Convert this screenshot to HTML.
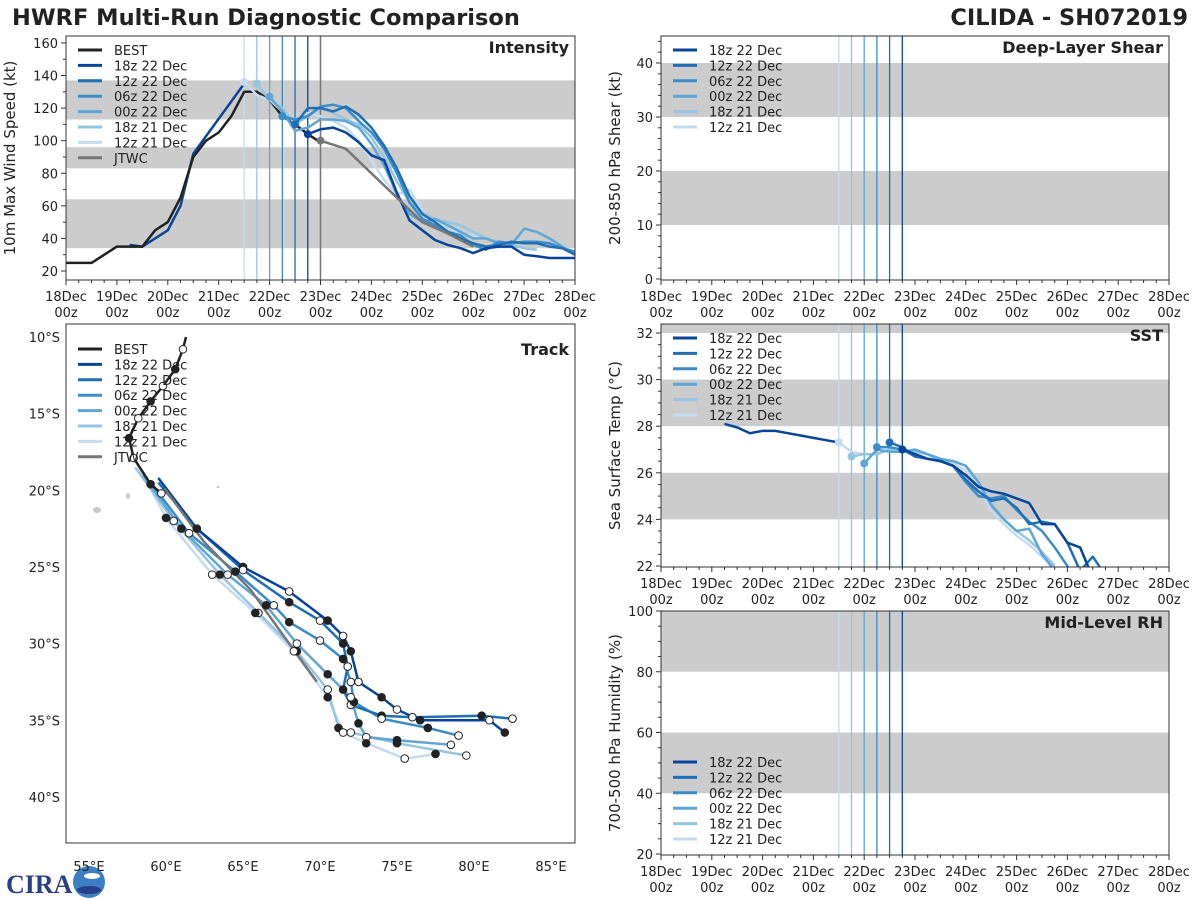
<!DOCTYPE html>
<html><head><meta charset="utf-8"><style>
body{margin:0;background:#fff;}
svg{display:block;font-family:"DejaVu Sans","Liberation Sans",sans-serif;}
</style></head><body>
<svg id="c" width="1200" height="900" viewBox="0 0 1200 900" xmlns="http://www.w3.org/2000/svg">
<rect width="1200" height="900" fill="#fff"/>
<text x="12" y="25" font-size="22.5" font-weight="bold" fill="#222">HWRF Multi-Run Diagnostic Comparison</text>
<text x="1188" y="25" font-size="22.5" font-weight="bold" fill="#222" text-anchor="end">CILIDA - SH072019</text>
<g>
<text x="6" y="893" font-size="26" font-weight="bold" fill="#2a3f8a" font-family="Liberation Serif, serif">CIRA</text>
<circle cx="89" cy="882" r="16" fill="#3c7fc4"/>
<ellipse cx="89" cy="890" rx="12" ry="4" fill="#2a3f8a"/>
<ellipse cx="92" cy="876" rx="8" ry="3" fill="#fff"/>
</g>
</svg>
<script>
// ---------- data ----------
const runNames = ["18z 22 Dec","12z 22 Dec","06z 22 Dec","00z 22 Dec","18z 21 Dec","12z 21 Dec"];
const runColors = ["#08459a","#1f6fb4","#3a8dc8","#5fa6d6","#95c5e0","#c6dbef"];
const runStarts = [4.75,4.5,4.25,4.0,3.75,3.5]; // days after 18 Dec 00z
const xDayLabels = ["18Dec","19Dec","20Dec","21Dec","22Dec","23Dec","24Dec","25Dec","26Dec","27Dec","28Dec"];
const jtwcStart = 5.0;

const bestDays = [0,0.5,1,1.5,1.75,2,2.25,2.5,2.75,3,3.25,3.5,3.75,4,4.25,4.5,4.75,5.0];
const bestVmax = [25,25,35,35,45,50,65,90,100,105,115,130,130,125,115,110,104,99];
const histDays = [1.25,1.5,1.75,2,2.25,2.5,3.5];
const histVmax = [36,35,40,45,60,92,135];
const jtwcVmax = [100,95,80,65,50,43,35]; // every 12h
const vmax18z22 = [104,107,108,105,99,91,88,68,51,45,39,36,34,31,34,35,35,30,29,28,28,28];
const vmax12z22 = [110,120,120,118,121,116,108,97,83,66,55,50,44,40,37,35,36,38,37,37,35,34,30,26];
const vmax06z22 = [115,113,115,121,122,120,112,105,95,80,62,52,48,44,42,36,33,38,37,38,38,37,34,32];
const vmax00z22 = [127,118,106,108,113,113,112,108,98,85,67,55,50,52,48,44,40,40,37,36,46,44,40,35,30];
const vmax18z21 = [135,125,120,110,115,120,117,113,110,102,90,75,62,56,52,50,48,44,40,38,36,34,33];
const vmax12z21 = [136,128,125,118,113,117,115,112,108,100,88,76,67,70,57,50,47,43,42,40,37,35];
const vmaxRuns = [vmax18z22,vmax12z22,vmax06z22,vmax00z22,vmax18z21,vmax12z21];

const sstHistDays = [1.25,1.5,1.75,2,2.25,2.5,2.75,3,3.25,3.5];
const sstHist = [28.1,27.95,27.7,27.8,27.8,27.7,27.6,27.5,27.4,27.3];
const sst18z22 = [27.0,26.8,26.6,26.5,26.3,25.9,25.4,25.2,25.1,24.9,24.7,23.8,23.8,23.0,22.8,21.5];
const sst12z22 = [27.3,27.1,26.7,26.6,26.5,26.3,25.7,25.2,24.8,24.9,24.5,23.8,23.9,23.8,23.0,21.8,22.4,21.6];
const sst06z22 = [27.1,27.1,27.0,26.7,26.6,26.5,26.3,25.6,25.0,24.9,25.0,24.4,23.9,23.5,22.8,22.0,21.3];
const sst00z22 = [26.4,27.0,26.9,26.9,27.0,26.8,26.6,26.5,26.3,25.6,24.6,24.0,23.5,23.6,22.5,21.8];
const sst18z21 = [26.7,26.8,26.8,27.0,27.0,26.9,26.8,26.5,26.5,26.3,25.6,24.7,24.0,23.5,23.1,22.6,22.0];
const sst12z21 = [27.3,26.9,26.8,26.8,27.0,27.0,26.9,26.8,26.5,26.4,26.1,25.4,24.4,23.8,23.3,22.9,22.4,21.9];
const sstRuns = [sst18z22,sst12z22,sst06z22,sst00z22,sst18z21,sst12z21];

// track (lon E, lat S)
const bestLon = [61.3,61.1,60.6,59.8,59.0,58.2,57.6,57.9,59.0,59.7];
const bestLat = [10.0,10.8,12.1,13.2,14.2,15.3,16.6,17.9,19.6,20.2];
const jtwcLon = [59.9,62.5,65.5,68.0,69.8];
const jtwcLat = [19.9,23.4,26.5,30.0,32.5];
const trk18z22Lon = [59.5,62,65,68,70.5,71.5,72,72.5,74,75,76.5,81,82];
const trk18z22Lat = [19.2,22.5,25,26.6,28.5,29.5,30.5,32.5,33.5,34.3,35,35,35.8];
const trk12z22Lon = [59.5,62,65,68,70,71.5,71.8,71.5,72,74,76,80.5,82.5];
const trk12z22Lat = [19.5,22.5,25.2,27.3,28.5,30,31.5,33,34,34.7,34.8,34.7,34.9];
const trk06z22Lon = [59,61.5,64.5,67,68,70,71.5,72,72.2,74,77,79];
const trk06z22Lat = [19.5,22.8,25.3,27.5,28.6,29.8,31,32.5,33.8,34.9,35.5,36];
const trk00z22Lon = [58.5,61,64,66.5,68.5,70.5,72,72.5,73,75,78.5];
const trk00z22Lat = [19,22.5,25.5,27.5,30,32,33.5,35.2,36.1,36.3,36.6];
const trk18z21Lon = [58,60.5,63.5,66,68.5,70.5,71.2,72,75,79.5];
const trk18z21Lat = [18.5,22,25.5,28,30.5,33,35.5,35.8,36.5,37.3];
const trk12z21Lon = [58,60,63,65.8,68.3,70.5,71.5,73,75.5,77.5];
const trk12z21Lat = [18,21.8,25.5,28,30.5,33.5,35.8,36.5,37.5,37.2];
const trkLons = [trk18z22Lon,trk12z22Lon,trk06z22Lon,trk00z22Lon,trk18z21Lon,trk12z21Lon];
const trkLats = [trk18z22Lat,trk12z22Lat,trk06z22Lat,trk00z22Lat,trk18z21Lat,trk12z21Lat];

// ---------- drawing ----------
const NS = "http://www.w3.org/2000/svg";
const svg = document.getElementById("c");
function mk(tag, attrs, parent){ const e=document.createElementNS(NS,tag); for(const k in attrs) e.setAttribute(k,attrs[k]); (parent||svg).appendChild(e); return e; }
function pts(xs, ys, fx, fy){ return xs.map((x,i)=>fx(x).toFixed(1)+","+fy(ys[i]).toFixed(1)).join(" "); }

function timePanel(cfg){
  const g = mk("g",{});
  
  
  const fx = d => cfg.x0 + (cfg.x1-cfg.x0)*d/10;
  const fy = v => cfg.yRef - (v-cfg.vRef)*cfg.ppu;
  const clipId = cfg.name+"-clip";
  const cp = mk("clipPath",{id:clipId},g);
  mk("rect",{x:cfg.x0,y:cfg.y0,width:cfg.x1-cfg.x0,height:cfg.y1-cfg.y0},cp);
  cfg.bands.forEach(b=>{
    const top=Math.max(cfg.y0,fy(b[1])), bot=Math.min(cfg.y1,fy(b[0]));
    const r = mk("rect",{x:cfg.x0,y:top,width:cfg.x1-cfg.x0,height:bot-top,fill:"#cccccc"},g);
    
    
  });
  runStarts.forEach((s,i)=>{
    const l = mk("line",{x1:fx(s),x2:fx(s),y1:cfg.y0,y2:cfg.y1,stroke:runColors[i],"stroke-width":1.3},g);
    
    
  });
  if(cfg.jtwcLine){
    const l = mk("line",{x1:fx(jtwcStart),x2:fx(jtwcStart),y1:cfg.y0,y2:cfg.y1,stroke:"#777","stroke-width":1.5},g);
    
    
  }
  const data = mk("g",{"clip-path":"url(#"+clipId+")"},g);
  if(cfg.draw) cfg.draw(data, fx, fy);
  const fr = mk("rect",{x:cfg.x0,y:cfg.y0,width:cfg.x1-cfg.x0,height:cfg.y1-cfg.y0,fill:"none",stroke:"#333","stroke-width":1},g);
  
  
  for(let q=0;q<=40;q++){
    const d=q/4, x=fx(d), major=q%4===0;
    mk("line",{x1:x,x2:x,y1:cfg.y1,y2:cfg.y1+(major?5:3),stroke:"#333","stroke-width":1},g);
    if(major){
      const t = mk("text",{x:x,y:cfg.y1+21,"font-size":13,"text-anchor":"middle",fill:"#222"},g);
      t.textContent = xDayLabels[q/4];
      
      
      const t2 = mk("text",{x:x,y:cfg.y1+37,"font-size":13,"text-anchor":"middle",fill:"#222"},g);
      t2.textContent = "00z";
      
      
    }
  }
  cfg.yTicks.forEach(v=>{
    const y=fy(v);
    mk("line",{x1:cfg.x0-5,x2:cfg.x0,y1:y,y2:y,stroke:"#333"},g);
    const t = mk("text",{x:cfg.x0-8,y:y+5,"font-size":13,"text-anchor":"end",fill:"#222"},g);
    t.textContent = v;
    
    
  });
  (cfg.yMinor||[]).forEach(v=>{
    const y=fy(v);
    if(y>cfg.y0 && y<cfg.y1) mk("line",{x1:cfg.x0-3,x2:cfg.x0,y1:y,y2:y,stroke:"#333"},g);
  });
  const cy=(cfg.y0+cfg.y1)/2;
  const yt = mk("text",{x:cfg.ytx,y:cy,"font-size":15,"text-anchor":"middle",fill:"#222",transform:"rotate(-90 "+cfg.ytx+" "+cy+")"},g);
  yt.textContent = cfg.ytitle;
  
  
  const pt = mk("text",{x:cfg.x1-6,y:cfg.y0+17,"font-size":16,"font-weight":"bold","text-anchor":"end",fill:"#222"},g);
  pt.textContent = cfg.title;
  
  
  return g;
}

function legend(parent, x, y, items){
  const g = mk("g",{},parent);
  
  
  items.forEach((it,i)=>{
    const yy=y+i*15.4;
    const l = mk("line",{x1:x,x2:x+24,y1:yy,y2:yy,stroke:it[1],"stroke-width":3},g);
    
    
    const t = mk("text",{x:x+36,y:yy+5,"font-size":13,fill:"#222"},g);
    t.textContent = it[0];
    
    
  });
}
const runItems = runNames.map((n,i)=>[n,runColors[i]]);
const fullItems = [["BEST","#222"]].concat(runItems).concat([["JTWC","#777"]]);

function series(parent, days, vals, color, name, w){
  const p = mk("polyline",{points:pts(days, vals, parent._fx, parent._fy),fill:"none",stroke:color,"stroke-width":w||2.5,"stroke-linejoin":"round"},parent);
  
  
  return p;
}
function dot(parent,x,y,color,name){
  const c = mk("circle",{cx:x,cy:y,r:4,fill:color},parent);
  
  
}

const intens = timePanel({name:"intensity",x0:66,x1:575,y0:36,y1:280,yRef:271,vRef:20,ppu:1.629,
  bands:[[34,64],[83,96],[113,137]],yTicks:[20,40,60,80,100,120,140,160],
  yMinor:[30,50,70,90,110,130,150],ytx:15,ytitle:"10m Max Wind Speed (kt)",title:"Intensity",jtwcLine:true,
  draw:(g,fx,fy)=>{
    g._fx=fx; g._fy=fy;
    series(g,histDays,histVmax,runColors[0],"hwrf-history-line");
    series(g,bestDays,bestVmax,"#222","best-intensity-line");
    vmaxRuns.slice().reverse().forEach((arr,ri)=>{
      const i=5-ri;
      const days=arr.map((v,k)=>runStarts[i]+k*0.25);
      series(g,days,arr,runColors[i],"intensity-run-"+runNames[i].replace(/ /g,"-").toLowerCase());
      dot(g,fx(days[0]),fy(arr[0]),runColors[i],"run-init-marker");
    });
    const jd=jtwcVmax.map((v,k)=>jtwcStart+k*0.5);
    series(g,jd,jtwcVmax,"#777","jtwc-intensity-line");
    dot(g,fx(jd[0]),fy(jtwcVmax[0]),"#777","jtwc-init-marker");
  }});
legend(intens,78,50,fullItems);

const shear = timePanel({name:"shear",x0:661,x1:1169,y0:36,y1:280,yRef:279,vRef:0,ppu:5.4,
  bands:[[10,20],[30,40]],yTicks:[0,10,20,30,40],yMinor:[2,4,6,8,12,14,16,18,22,24,26,28,32,34,36,38,42,44],
  ytx:620,ytitle:"200-850 hPa Shear (kt)",title:"Deep-Layer Shear"});
legend(shear,673,50,runItems);

const sst = timePanel({name:"sst",x0:661,x1:1169,y0:324,y1:567,yRef:566,vRef:22,ppu:23.3,
  bands:[[24,26],[28,30],[32,33]],yTicks:[22,24,26,28,30,32],
  yMinor:[22.5,23,23.5,24.5,25,25.5,26.5,27,27.5,28.5,29,29.5,30.5,31,31.5],
  ytx:620,ytitle:"Sea Surface Temp (°C)",title:"SST",
  draw:(g,fx,fy)=>{
    g._fx=fx; g._fy=fy;
    series(g,sstHistDays,sstHist,runColors[0],"sst-history-line");
    sstRuns.slice().reverse().forEach((arr,ri)=>{
      const i=5-ri;
      const days=arr.map((v,k)=>runStarts[i]+k*0.25);
      series(g,days,arr,runColors[i],"sst-run-"+runNames[i].replace(/ /g,"-").toLowerCase());
      dot(g,fx(days[0]),fy(arr[0]),runColors[i],"run-init-marker");
    });
  }});
legend(sst,673,338,runItems);

const rh = timePanel({name:"rh",x0:661,x1:1169,y0:611,y1:855,yRef:854,vRef:20,ppu:3.0375,
  bands:[[40,60],[80,100]],yTicks:[20,40,60,80,100],yMinor:[25,30,35,45,50,55,65,70,75,85,90,95],
  ytx:620,ytitle:"700-500 hPa Humidity (%)",title:"Mid-Level RH"});
legend(rh,673,762,runItems);

(function(){
  const x0=66,x1=575,y0=324,y1=843;
  const fx = lon => 89+(lon-55)*15.4;
  const fy = lat => 337+(lat-10)*15.33;
  const g = mk("g",{});
  
  
  const cp = mk("clipPath",{id:"trk-clip"},g);
  mk("rect",{x:x0,y:y0,width:x1-x0,height:y1-y0},cp);
  const d = mk("g",{"clip-path":"url(#trk-clip)"},g);
  [[97,510,4,3],[128,496,2,3],[218,487,1.5,1]].forEach(b=>{
    const e = mk("ellipse",{cx:b[0],cy:b[1],rx:b[2],ry:b[3],fill:"#c8c8c8"},d);
    
    
  });
  function trk(lons,lats,color,name,w){
    const p = mk("polyline",{points:pts(lons,lats,fx,fy),fill:"none",stroke:color,"stroke-width":w||2.5,"stroke-linejoin":"round"},d);
    
    
  }
  function marks(lons,lats,start){
    lons.forEach((lon,k)=>{
      if(k===0) return;
      const filled = (k+start)%2===0;
      const c = mk("circle",{cx:fx(lon),cy:fy(lats[k]),r:3.8,fill:filled?"#222":"#fff",stroke:"#222","stroke-width":1},d);
      
      
    });
  }
  trkLons.slice().reverse().forEach((lons,ri)=>{
    const i=5-ri;
    trk(lons,trkLats[i],runColors[i],"track-run-"+runNames[i].replace(/ /g,"-").toLowerCase());
  });
  trk(jtwcLon,jtwcLat,"#777","jtwc-track-line");
  trk(bestLon,bestLat,"#222","best-track-line");
  trkLons.forEach((lons,i)=>marks(lons,trkLats[i],i));
  marks(bestLon,bestLat,0);
  const fr = mk("rect",{x:x0,y:y0,width:x1-x0,height:y1-y0,fill:"none",stroke:"#333"},g);
  
  
  [55,60,65,70,75,80,85].forEach(lon=>{
    const t = mk("text",{x:fx(lon),y:871,"font-size":13,"text-anchor":"middle",fill:"#222"},g);
    t.textContent = lon+"°E";
    
    
  });
  [10,15,20,25,30,35,40].forEach(lat=>{
    const t = mk("text",{x:60,y:fy(lat)+5,"font-size":13,"text-anchor":"end",fill:"#222"},g);
    t.textContent = lat+"°S";
    
    
  });
  const pt = mk("text",{x:569,y:355,"font-size":16,"font-weight":"bold","text-anchor":"end",fill:"#222"},g);
  pt.textContent = "Track";
  
  
  legend(g,78,349,fullItems);
})();
</script>
</body></html>
